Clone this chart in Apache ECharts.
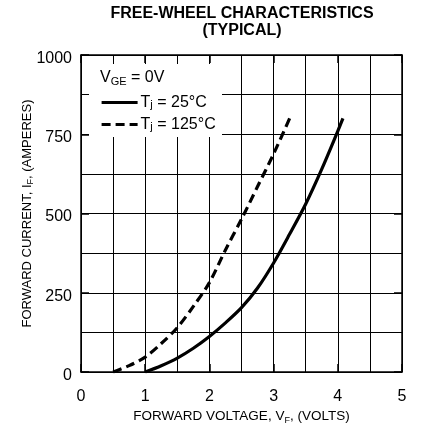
<!DOCTYPE html>
<html><head><meta charset="utf-8">
<script src="https://cdn.jsdelivr.net/npm/echarts/dist/echarts.min.js"></script>
<style>html,body{margin:0;padding:0;background:#fff}#c{width:421px;height:430px}</style>
</head><body><div id="c"></div>
<script>
// Data
const voltage25 = [1.0, 1.25, 1.5, 1.75, 2.0, 2.25, 2.5, 2.75, 3.0, 3.25, 3.5, 3.75, 4.0, 4.08];
const current25 = [0, 20, 44, 75, 112, 155, 203, 265, 344, 435, 530, 640, 760, 800];
const voltage125 = [0.5, 0.75, 1.0, 1.25, 1.5, 1.75, 2.0, 2.25, 2.5, 2.75, 3.0, 3.25];
const current125 = [0, 20, 47, 90, 140, 207, 282, 385, 482, 585, 688, 800];
const seriesNames = ['Tj = 25°C', 'Tj = 125°C'];
const xRange = [0, 5];
const yRange = [0, 1000];

const FONT = '"Liberation Sans", Arial, Helvetica, sans-serif';
const black = '#000';

function pairs(xs, ys) { return xs.map((x, i) => [x, ys[i]]); }

const chart = echarts.init(document.getElementById('c'), null, {renderer: 'canvas'});

const tickAxisCommon = {
  type: 'value', z: 3,
  axisLine: {show: true, onZero: false, lineStyle: {color: black, width: 1.5}},
  axisTick: {show: true, inside: true, length: 8, lineStyle: {color: black, width: 1.5}},
  splitLine: {show: false}
};

const option = {
  animation: false,
  textStyle: {fontFamily: FONT},
  title: {
    text: 'FREE-WHEEL CHARACTERISTICS\n(TYPICAL)',
    left: 237, top: 0, textAlign: 'center',
    textStyle: {fontFamily: FONT, fontSize: 16, fontWeight: 'bold', color: black, lineHeight: 17}
  },
  grid: {left: 81, right: 19, top: 55, bottom: 55, containLabel: false},
  xAxis: [
    {type: 'value', min: xRange[0], max: xRange[1], interval: 0.5, position: 'bottom', z: 0,
     axisLine: {show: false}, axisTick: {show: false}, axisLabel: {show: false},
     splitLine: {show: true, lineStyle: {color: black, width: 1}}},
    Object.assign({}, tickAxisCommon, {min: xRange[0], max: xRange[1], interval: 1, position: 'bottom',
     axisLabel: {show: true, fontSize: 16, color: black, margin: 13, padding: [4, 0, 0, 0], fontFamily: FONT, formatter: v => String(v)},
     name: '{n|FORWARD VOLTAGE, V}{s|F}{n|, (VOLTS)}', nameLocation: 'middle', nameGap: 36, nameMoveOverlap: false,
     nameTextStyle: {fontFamily: FONT, rich: {
       n: {fontSize: 13.5, color: black, lineHeight: 17, fontFamily: FONT},
       s: {fontSize: 9, color: black, lineHeight: 10, verticalAlign: 'bottom', fontFamily: FONT}}}}),
    Object.assign({}, tickAxisCommon, {min: xRange[0], max: xRange[1], interval: 1, position: 'top',
     axisLabel: {show: false}})
  ],
  yAxis: [
    {type: 'value', min: yRange[0], max: yRange[1], interval: 125, position: 'left', z: 0,
     axisLine: {show: false}, axisTick: {show: false}, axisLabel: {show: false},
     splitLine: {show: true, lineStyle: {color: black, width: 1}}},
    Object.assign({}, tickAxisCommon, {min: yRange[0], max: yRange[1], interval: 250, position: 'left',
     axisLabel: {show: true, fontSize: 16, color: black, margin: 9, verticalAlign: 'top', lineHeight: 7,
       fontFamily: FONT, formatter: v => String(v)},
     name: '{n|FORWARD CURRENT, I}{s|F}{n|, (AMPERES)}', nameLocation: 'middle', nameGap: 46, nameRotate: 90,
     nameMoveOverlap: false,
     nameTextStyle: {fontFamily: FONT, rich: {
       n: {fontSize: 13, color: black, lineHeight: 16, fontFamily: FONT},
       s: {fontSize: 9, color: black, lineHeight: 9, verticalAlign: 'bottom', fontFamily: FONT}}}}),
    Object.assign({}, tickAxisCommon, {min: yRange[0], max: yRange[1], interval: 250, position: 'right',
     axisLabel: {show: false}})
  ],
  legend: {
    orient: 'vertical', left: 100, top: 94.5, padding: 0, itemGap: 6,
    itemWidth: 36, itemHeight: 14, z: 5,
    itemStyle: {opacity: 0},
    lineStyle: {width: 3.2},
    data: seriesNames,
    formatter: function (name) {
      const m = name.match(/^T(j)(.*)$/);
      return '{n|T}{s|j}{n|' + m[2] + '}';
    },
    textStyle: {fontFamily: FONT, color: black, padding: [0, 0, 0, -2], rich: {
      n: {fontSize: 16, color: black, lineHeight: 16, fontFamily: FONT},
      s: {fontSize: 11, color: black, lineHeight: 10, verticalAlign: 'bottom', fontFamily: FONT}}}
  },
  graphic: [
    {type: 'rect', z: 1, shape: {x: 89, y: 64, width: 133, height: 73}, style: {fill: '#fff'}},
    {type: 'text', z: 10, left: 100, top: 70,
     style: {text: '{n|V}{s|GE}{n| = 0V}', fontFamily: FONT, rich: {
       n: {fontSize: 16, fill: black, lineHeight: 18, fontFamily: FONT},
       s: {fontSize: 11, fill: black, lineHeight: 11, verticalAlign: 'bottom', fontFamily: FONT}}}}
  ],
  series: [
    {name: seriesNames[0], type: 'line', xAxisIndex: 0, yAxisIndex: 0, z: 2,
     data: pairs(voltage25, current25), smooth: 0.3, symbol: 'none', showSymbol: false,
     lineStyle: {color: black, width: 3.2, type: 'solid'}, itemStyle: {color: black}},
    {name: seriesNames[1], type: 'line', xAxisIndex: 0, yAxisIndex: 0, z: 2,
     data: pairs(voltage125, current125), smooth: 0.3, symbol: 'none', showSymbol: false,
     lineStyle: {color: black, width: 3.2, type: [9, 5]}, itemStyle: {color: black}}
  ]
};
chart.setOption(option);
</script>
</body></html>
